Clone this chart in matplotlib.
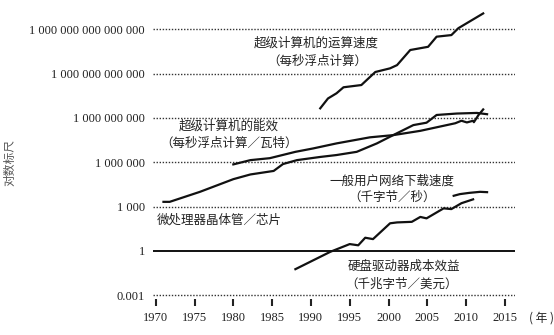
import numpy as np
import matplotlib.pyplot as plt

# Values (log scale)
speed_years = [1991.2, 1992.2, 1993.3, 1994.2, 1996.5, 1998.3, 2000.2, 2001.1,
               2002.8, 2005.1, 2006.2, 2008.1, 2009.0, 2012.2]
speed_flops = [4.5e9, 2.1e10, 4.7e10, 1.2e11, 1.7e11, 1.3e12, 2.3e12, 3.8e12,
               4.0e13, 6.6e13, 3.2e14, 4.1e14, 1.2e15, 1.2e16]

eff_years = [1980.0, 1982.2, 1984.7, 1988.0, 1990.3, 1993.3, 1997.6, 2000.6,
             2004.1, 2008.6, 2009.4, 2010.1, 2010.9, 2011.0, 2011.6, 2012.2]
eff_flops_w = [7.2e5, 1.4e6, 1.9e6, 5.1e6, 8.7e6, 1.9e7, 4.9e7, 6.9e7,
               1.35e8, 4.4e8, 6.5e8, 5.0e8, 6.5e8, 5.2e8, 1.6e9, 3.8e9]

trans_years = [1971.0, 1971.8, 1975.7, 1980.0, 1982.2, 1985.2, 1986.4, 1988.2,
               1989.0, 1991.2, 1993.3, 1995.9, 1998.5, 2000.6, 2003.2, 2004.9,
               2006.2, 2008.8, 2011.4, 2012.7]
trans_count = [2.1e3, 2.1e3, 1.0e4, 7.2e4, 1.5e5, 2.6e5, 7.6e5, 1.4e6,
               1.6e6, 2.3e6, 3.1e6, 5.1e6, 1.9e7, 6.9e7, 3.3e8, 4.8e8,
               1.6e9, 2.0e9, 2.2e9, 1.8e9]

hdd_years = [1988.0, 1992.5, 1995.0, 1996.1, 1997.0, 1998.0, 2000.2, 2001.1,
             2003.0, 2004.1, 2004.9, 2007.1, 2008.1, 2009.4, 2010.9]
hdd_gb_usd = [0.058, 0.87, 2.9, 2.4, 7.8, 6.3, 74, 85,
              93, 200, 160, 760, 680, 1.7e3, 3.1e3]

dl_years = [2008.4, 2009.2, 2010.4, 2011.8, 2012.7]
dl_kbps = [5.4e3, 7.0e3, 8.5e3, 1.0e4, 9.5e3]

ytick_vals = [1e-3, 1, 1e3, 1e6, 1e9, 1e12, 1e15]
ytick_labels = ['0.001', '1', '1 000', '1 000 000', '1 000 000 000',
                '1 000 000 000 000', '1 000 000 000 000 000']
xtick_vals = [1970, 1975, 1980, 1985, 1990, 1995, 2000, 2005, 2010, 2015]

W, H = 554, 335
fig = plt.figure(figsize=(W / 100, H / 100), dpi=100)
ax = fig.add_axes([153 / W, 1 - 306 / H, 362 / W, 301 / H])

ax.set_yscale('log')
ax.set_xlim(1969.65, 2016.3)
ax.set_ylim(10 ** -3.73, 10 ** 16.65)

# reference lines: dotted, solid at 1
for v in ytick_vals:
    if v == 1:
        ax.axhline(v, color='#111111', lw=1.4, zorder=1)
    else:
        ax.axhline(v, color='#333333', lw=1.0, ls=(0, (1, 1.2)), zorder=1)

line_kw = dict(color='#111111', lw=1.6, solid_joinstyle='round')
ax.plot(speed_years, speed_flops, **line_kw)
ax.plot(eff_years, eff_flops_w, **line_kw)
ax.plot(trans_years, trans_count, **line_kw)
ax.plot(hdd_years, hdd_gb_usd, **line_kw)
ax.plot(dl_years, dl_kbps, **line_kw)

for s in ax.spines.values():
    s.set_visible(False)

ax.set_yticks(ytick_vals)
ax.set_yticklabels(ytick_labels, family='Liberation Serif', fontsize=9, color='#222222')
ax.yaxis.set_minor_locator(plt.NullLocator())
ax.tick_params(axis='y', length=0, pad=5.8)

ax.set_xticks(xtick_vals)
ax.set_xticklabels([str(x) for x in xtick_vals], family='Liberation Serif',
                   fontsize=9, color='#222222')
ax.tick_params(axis='x', direction='in', length=5, width=1.5, color='#222222', pad=4)

cjk = ['Noto Sans CJK SC', 'DejaVu Sans']


def label(x, y, s, ha='center', size=9):
    fig.text(x / W, 1 - y / H, s, ha=ha, va='center', fontsize=size,
             family=cjk, color='#222222')


label(316, 43, '超级计算机的运算速度')
label(317, 61, '（每秒浮点计算）')
label(229, 126, '超级计算机的能效')
label(229, 143, '（每秒浮点计算／瓦特）')
label(392, 181, '一般用户网络下载速度')
label(392, 197, '（千字节／秒）')
label(157, 220, '微处理器晶体管／芯片', ha='left')
label(404, 266, '硬盘驱动器成本效益')
label(402, 284, '（千兆字节／美元）')
label(529, 318, '( 年 )', ha='left', size=8.5)

fig.text(10 / W, 1 - 162 / H, '对数标尺', rotation=90, ha='center', va='center',
         fontsize=8.5, family=cjk, color='#555555')

fig.savefig('out.png', dpi=100)
